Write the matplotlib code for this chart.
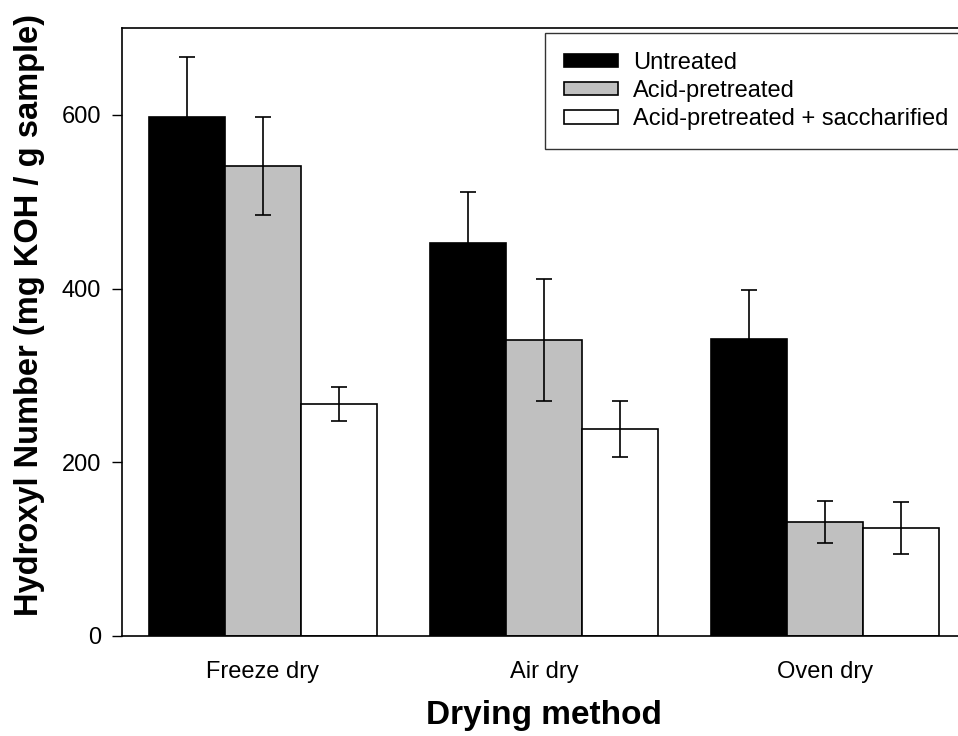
import numpy as np
import matplotlib
matplotlib.use("Agg")
import matplotlib.pyplot as plt

plt.rcParams['font.family'] = ['Liberation Sans', 'DejaVu Sans']

# data
methods = ["Freeze dry", "Air dry", "Oven dry"]
series = ["Untreated", "Acid-pretreated", "Acid-pretreated + saccharified"]
untreated = [597, 452, 342]
untreated_err = [69, 59, 56]
acid = [541, 341, 131]
acid_err = [56, 70, 24]
sacch = [267, 238, 124]
sacch_err = [20, 32, 30]

colors = ["black", "#c0c0c0", "white"]

fig = plt.figure(figsize=(9.58, 7.36), dpi=100)
ax = fig.add_axes([0.1273, 0.1359, 0.8811, 0.8261])

x = np.arange(len(methods))
w = 0.27
vals = [untreated, acid, sacch]
errs = [untreated_err, acid_err, sacch_err]
for i in range(3):
    ax.bar(x + (i - 1) * w, vals[i], w, color=colors[i], edgecolor="black",
           linewidth=1.2, label=series[i],
           yerr=errs[i], capsize=6,
           error_kw=dict(ecolor="black", elinewidth=1.2, capthick=1.2))

ax.set_xlim(-0.5, 2.5)
ax.set_ylim(0, 700)
ax.set_yticks([0, 200, 400, 600])
ax.set_xticks(x)
ax.set_xticklabels(methods)
ax.tick_params(axis='y', direction='out', length=7, width=1, labelsize=17, pad=8)
ax.tick_params(axis='x', length=0, labelsize=17, pad=18)
for s in ax.spines.values():
    s.set_linewidth(1.2)

ax.set_xlabel("Drying method", fontsize=24, fontweight="bold", labelpad=12)
ax.set_ylabel("Hydroxyl Number (mg KOH / g sample)", fontsize=23.5,
              fontweight="bold")
ax.yaxis.set_label_coords(-0.0912, 0.528)

leg = ax.legend(loc="upper left", bbox_to_anchor=(545 / 958, 1 - 33 / 736),
                bbox_transform=fig.transFigure, fontsize=17,
                frameon=True, fancybox=False, handlelength=2.3,
                handleheight=0.5, handletextpad=0.63, labelspacing=0.26,
                borderpad=0.8, borderaxespad=0)
leg.get_frame().set_edgecolor("black")
leg.get_frame().set_linewidth(1)

fig.savefig("out.png", dpi=100)
